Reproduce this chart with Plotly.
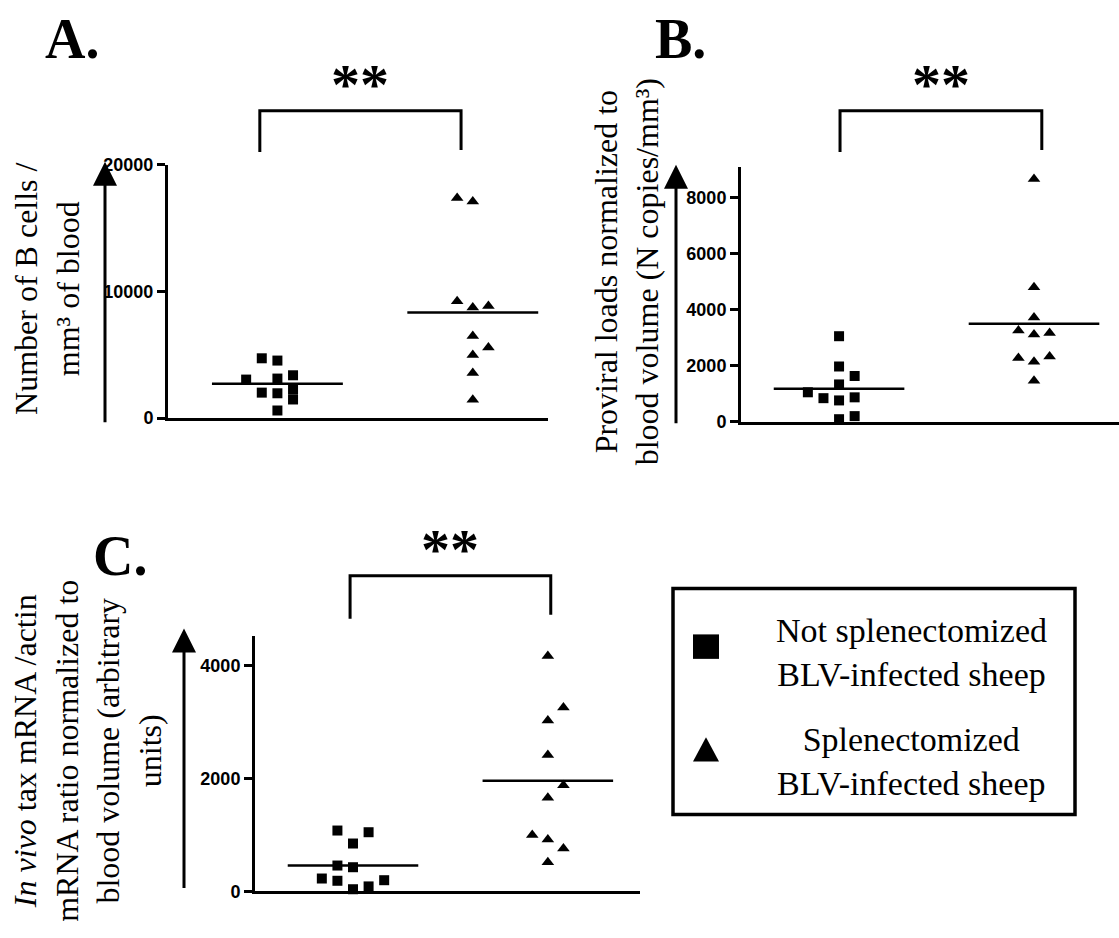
import plotly.graph_objects as go

W, H = 1119, 938

# ---------------- data ----------------
groups = ["Not splenectomized<br>BLV-infected sheep", "Splenectomized<br>BLV-infected sheep"]
group_x = [1, 2]

# Panel A: Number of B cells / mm3 of blood
a_not_splen = [4720, 4540, 3040, 3120, 3380, 2010, 1960, 2250, 1470, 600]
a_not_splen_col = [-1, 0, -2, 0, 1, -1, 0, 1, 1, 0]
a_splen = [17360, 17100, 9230, 8720, 8850, 6480, 5570, 4980, 3560, 1450]
a_splen_col = [-1, 0, -1, 0, 1, 0, 1, 0, 0, 0]
a_ticks = [0, 10000, 20000]

# Panel B: Proviral loads normalized to blood volume
b_not_splen = [3050, 1970, 1630, 1330, 1050, 840, 760, 870, 90, 200]
b_not_splen_col = [0, 0, 1, 0, -2, -1, 0, 1, 0, 1]
b_splen = [8660, 4800, 3720, 3250, 3110, 3160, 2270, 2140, 2330, 1460]
b_splen_col = [0, 0, 0, -1, 0, 1, -1, 0, 1, 0]
b_ticks = [0, 2000, 4000, 6000, 8000]

# Panel C: In vivo tax mRNA / actin ratio normalized to blood volume
c_not_splen = [1080, 1050, 850, 460, 430, 230, 190, 200, 40, 90]
c_not_splen_col = [-1, 1, 0, -1, 0, -2, -1, 2, 0, 1]
c_splen = [4170, 3260, 3030, 2420, 1880, 1660, 1000, 920, 760, 520]
c_splen_col = [0, 1, 0, 0, 1, 0, -1, 0, 1, 0]
c_ticks = [0, 2000, 4000]

panel_letters = ["A.", "B.", "C."]
significance = "**"
y_titles = [
    "Number of B cells /<br>mm³ of blood",
    "Proviral loads normalized to<br>blood volume (N copies/mm³)",
    "<i>In vivo</i> tax mRNA /actin<br>mRNA ratio normalized to<br>blood volume (arbitrary<br>units)",
]

# ---------------- layout helpers (pixel geometry) ----------------
def px(x):
    return x / W

def py(y):
    return 1 - y / H

COL_STEP = 0.08
MEAN_HALF = 0.335

panels = [
    dict(sq=a_not_splen, sqc=a_not_splen_col, tr=a_splen, trc=a_splen_col, ticks=a_ticks,
         box=(168, 548, 158, 417), xr=[0.44, 2.385], yr=[0, 20000],
         br=(0.91, 1.94), br_top=103, br_bot=(145, 143),
         arrow=(105, 155, 417), letter=(43, 30), title=(47, 285)),
    dict(sq=b_not_splen, sqc=b_not_splen_col, tr=b_splen, trc=b_splen_col, ticks=b_ticks,
         box=(741, 1119, 160.7, 420.7), xr=[0.497, 2.436], yr=[0, 9075],
         br=(1.005, 2.04), br_top=103, br_bot=(145, 143),
         arrow=(676, 158, 418), letter=(653, 30), title=(627, 268)),
    dict(sq=c_not_splen, sqc=c_not_splen_col, tr=c_splen, trc=c_splen_col, ticks=c_ticks,
         box=(255, 640, 640, 900.7), xr=[0.497, 2.473], yr=[0, 4520],
         br=(0.985, 2.015), br_top=578, br_bot=(622, 618),
         arrow=(184, 632, 893), letter=(91, 558), title=(88, 757)),
]

fig = go.Figure()
shapes = []
annotations = []
layout_axes = {}

for i, p in enumerate(panels):
    s = "" if i == 0 else str(i + 1)
    xa, ya = "x" + s, "y" + s
    L, R, T, B = p["box"]

    # points and group means
    for vals, cols, sym, size in [(p["sq"], p["sqc"], "square", 10),
                                  (p["tr"], p["trc"], "triangle-up", 11)]:
        g = group_x[0] if sym == "square" else group_x[1]
        fig.add_trace(go.Scatter(
            x=[g + c * COL_STEP for c in cols], y=vals, mode="markers",
            marker=dict(symbol=sym, size=size, color="black", line=dict(width=0)),
            cliponaxis=False, showlegend=False, xaxis=xa, yaxis=ya,
            name=groups[0] if sym == "square" else groups[1]))
        m = sum(vals) / len(vals)
        fig.add_trace(go.Scatter(
            x=[g - MEAN_HALF, g + MEAN_HALF], y=[m, m], mode="lines",
            line=dict(color="black", width=2.5), showlegend=False,
            hoverinfo="skip", xaxis=xa, yaxis=ya))

    layout_axes["xaxis" + s] = dict(
        domain=[px(L), px(R)], range=p["xr"], anchor=ya, showline=True, linewidth=3,
        linecolor="black", showticklabels=False, ticks="", showgrid=False, zeroline=False)
    layout_axes["yaxis" + s] = dict(
        domain=[py(B), py(T)], range=p["yr"], anchor=xa, showline=True, linewidth=3,
        linecolor="black", ticks="outside", ticklen=8, tickwidth=2.5, tickcolor="black",
        tickvals=p["ticks"], tickformat="d", showgrid=False, zeroline=False,
        tickfont=dict(family="Liberation Sans", size=18, color="black", weight="bold"))

    # significance bracket
    def dx(v, p=p, L=L, R=R):
        return L + (v - p["xr"][0]) / (p["xr"][1] - p["xr"][0]) * (R - L)
    x0, x1 = dx(p["br"][0]), dx(p["br"][1])
    top = p["br_top"]
    shapes.append(dict(
        type="path", xref="paper", yref="paper",
        path=f"M {px(x0)},{py(p['br_bot'][0])} L {px(x0)},{py(top)} L {px(x1)},{py(top)} L {px(x1)},{py(p['br_bot'][1])}",
        line=dict(color="black", width=3)))
    annotations.append(dict(
        x=px((x0 + x1) / 2), y=py(top - 27), xref="paper", yref="paper",
        text=significance, showarrow=False, xanchor="center", yanchor="middle",
        font=dict(family="Liberation Serif", size=58, color="black", weight="bold")))

    # upward arrow next to y axis
    ax_x, tip, tail = p["arrow"]
    annotations.append(dict(
        x=px(ax_x), y=py(tip), xref="paper", yref="paper", text="",
        showarrow=True, ax=0, ay=tail - tip, axref="pixel", ayref="pixel",
        arrowhead=2, arrowsize=1.6, arrowwidth=3, arrowcolor="black", standoff=0))

    # panel letter
    lx, ly = p["letter"]
    annotations.append(dict(
        x=px(lx), y=py(ly), xref="paper", yref="paper", text=panel_letters[i],
        showarrow=False, xanchor="left", yanchor="middle",
        font=dict(family="Liberation Serif", size=56, color="black", weight="bold")))

    # y axis title
    tx, ty = p["title"]
    annotations.append(dict(
        x=px(tx), y=py(ty), xref="paper", yref="paper", text=y_titles[i],
        showarrow=False, textangle=-90, xanchor="center", yanchor="middle", align="center",
        font=dict(family="Liberation Serif", size=32, color="black")))

# ---------------- legend box ----------------
shapes.append(dict(type="rect", xref="paper", yref="paper",
                   x0=px(673), x1=px(1075), y0=py(822), y1=py(591),
                   line=dict(color="black", width=3.5), fillcolor="rgba(0,0,0,0)"))
shapes.append(dict(type="rect", xref="paper", yref="paper",
                   x0=px(693), x1=px(719), y0=py(663), y1=py(638),
                   line=dict(width=0), fillcolor="black"))
shapes.append(dict(type="path", xref="paper", yref="paper",
                   path=f"M {px(693)},{py(768)} L {px(719)},{py(768)} L {px(706)},{py(743)} Z",
                   line=dict(width=0), fillcolor="black"))
for gname, cy in zip(groups, [656, 768]):
    annotations.append(dict(
        x=px(911), y=py(cy), xref="paper", yref="paper", text=gname,
        showarrow=False, xanchor="center", yanchor="middle", align="center",
        font=dict(family="Liberation Serif", size=34, color="black")))

fig.update_layout(
    width=W, height=H, margin=dict(l=0, r=0, t=0, b=0),
    paper_bgcolor="white", plot_bgcolor="white",
    shapes=shapes, annotations=annotations, showlegend=False,
    **layout_axes)

fig.write_html("out.html", config={"displayModeBar": False},
               post_script="document.body.style.margin='0';")
